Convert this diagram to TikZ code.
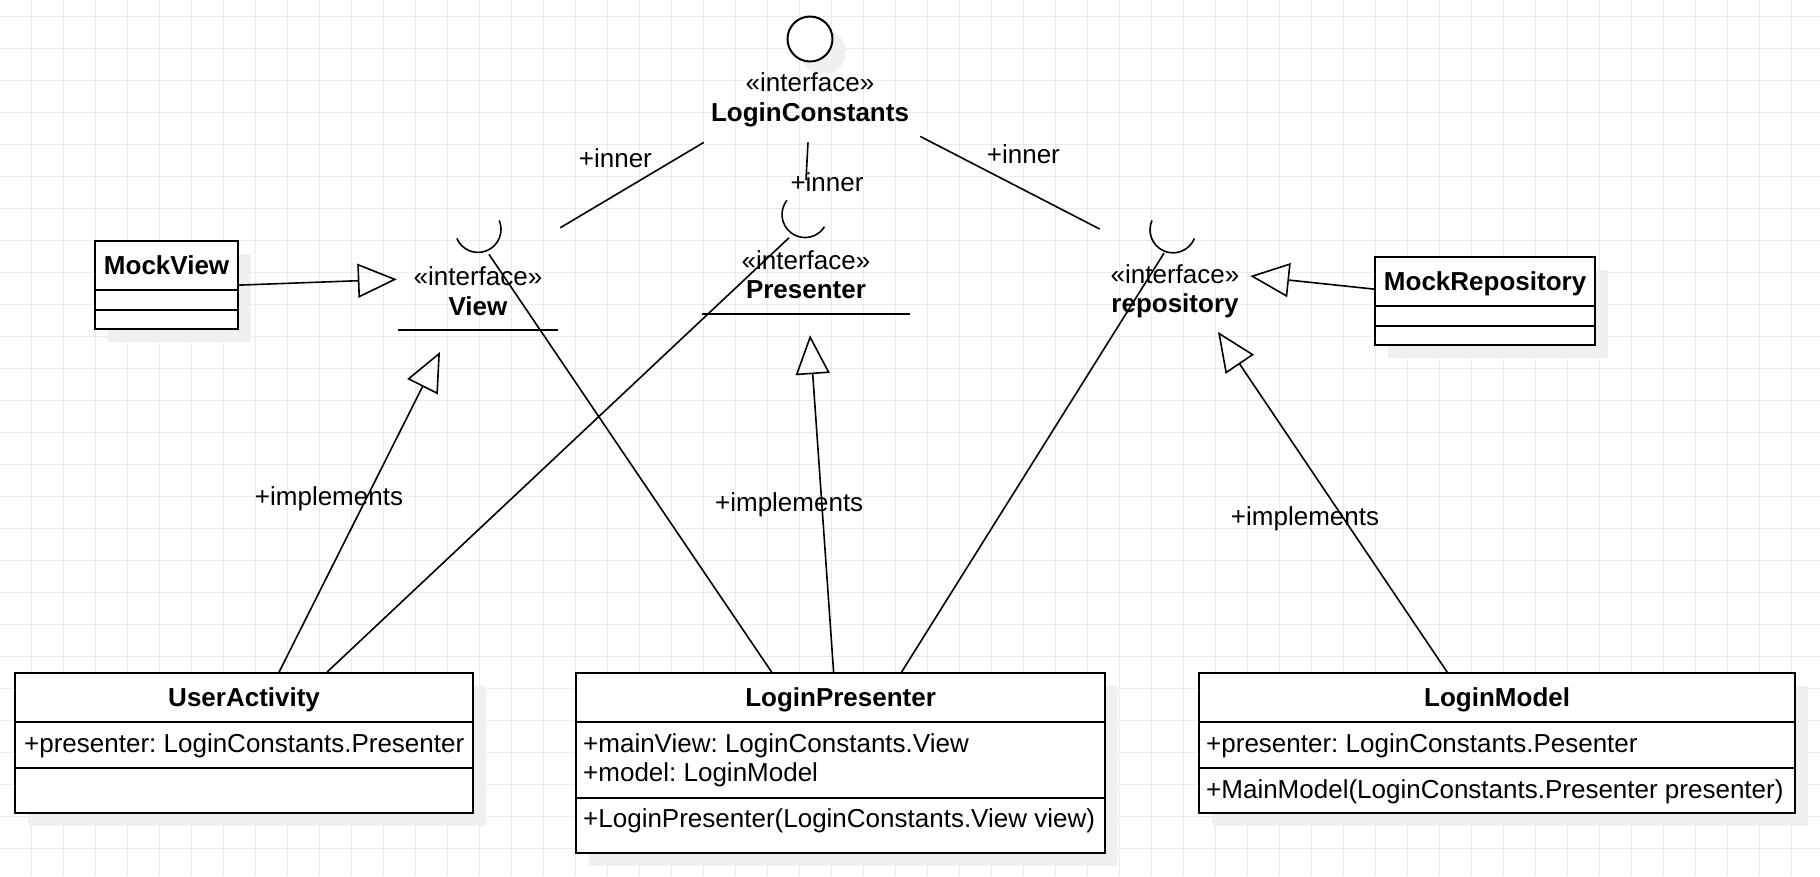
\documentclass[tikz,border=0pt]{standalone}
\usepackage{fontspec}
\setmainfont{Liberation Sans}
\usetikzlibrary{arrows.meta,shadows}
\frenchspacing

\begin{document}
\begin{tikzpicture}[x=1pt,y=-1pt,
  txt/.style={font=\fontsize{26}{29.3}\selectfont,inner sep=0pt,text height=25pt,text depth=5.5pt},
  iface/.style={font=\fontsize{26}{29.3}\selectfont,inner sep=0pt,align=center},
  classbox/.style={draw,line width=2.2pt,fill=white,anchor=north west,inner sep=0pt,
    drop shadow={shadow xshift=13pt,shadow yshift=-13pt,fill=black!6,opacity=1}},
  title/.style={txt,font=\fontsize{26}{29.3}\selectfont\bfseries},
  member/.style={txt,anchor=west},
  divider/.style={line width=2.2pt},
  uline/.style={line width=2pt},
  conn/.style={line width=1.6pt},
  gen/.style={line width=1.6pt,line join=miter,-{Triangle[open,length=39pt,width=34pt]}},
  gridline/.style={line width=1pt,black!8}]
  \fill[white] (0,0) rectangle (1820,876);
  \useasboundingbox (0,0) rectangle (1820,876);
  \foreach \x in {31,63,...,1819} \draw[gridline] (\x,0) -- (\x,876);
  \foreach \y in {16,48,...,876} \draw[gridline] (0,\y) -- (1820,\y);

  \node[circle,draw,line width=2pt,fill=white,minimum size=45pt,inner sep=0pt,
    drop shadow={shadow xshift=13pt,shadow yshift=-13pt,fill=black!6,opacity=1}] (lc) at (810,39) {};
  \node[iface,minimum width=212pt,minimum height=83pt] (lcname) at (810,99.7) {«interface»\\\textbf{LoginConstants}};

  \node[iface,minimum width=160pt,minimum height=77.4pt] (view) at (478,291.3) {«interface»\\\textbf{View}};
  \draw[uline] (view.south west) -- (view.south east);
  \draw[conn] ([shift={(0,-23)}]view.north) ++(157:23) arc[start angle=157,end angle=-23,radius=23];

  \node[iface,minimum width=208pt,minimum height=78pt] (presenter) at (806,274.7) {«interface»\\\textbf{Presenter}};
  \draw[uline] (presenter.south west) -- (presenter.south east);
  \draw[conn] ([shift={(-1,-21)}]presenter.north) ++(218:23) arc[start angle=218,end angle=32,radius=23];

  \node[iface,minimum width=150pt,minimum height=78pt] (repo) at (1175,291) {«interface»\\\textbf{repository}};
  \draw[conn] ([shift={(-2,-22)}]repo.north) ++(204:23) arc[start angle=204,end angle=22,radius=23];

  \node[classbox,minimum width=143pt,minimum height=88pt] (mockview) at (94,240) {};
  \node[title] (mockview-t) at ([shift={(0,25)}]mockview.north) {MockView};
  \draw[divider] ([shift={(0,50)}]mockview.north west) -- ([shift={(0,50)}]mockview.north east);
  \draw[divider] ([shift={(0,70)}]mockview.north west) -- ([shift={(0,70)}]mockview.north east);

  \node[classbox,minimum width=220pt,minimum height=88pt] (mockrepo) at (1374,256) {};
  \node[title] (mockrepo-t) at ([shift={(0,25)}]mockrepo.north) {MockRepository};
  \draw[divider] ([shift={(0,50)}]mockrepo.north west) -- ([shift={(0,50)}]mockrepo.north east);
  \draw[divider] ([shift={(0,70)}]mockrepo.north west) -- ([shift={(0,70)}]mockrepo.north east);

  \node[classbox,minimum width=458pt,minimum height=140pt] (useract) at (14,672) {};
  \node[title] (useract-t) at ([shift={(0,25)}]useract.north) {UserActivity};
  \draw[divider] ([shift={(0,50)}]useract.north west) -- ([shift={(0,50)}]useract.north east);
  \draw[divider] ([shift={(0,96)}]useract.north west) -- ([shift={(0,96)}]useract.north east);
  \node[member] (useract-a) at ([shift={(10,70.5)}]useract.north west) {+presenter: LoginConstants.Presenter};

  \node[classbox,minimum width=529pt,minimum height=180pt] (loginpres) at (575,672) {};
  \node[title] (loginpres-t) at ([shift={(0,25)}]loginpres.north) {LoginPresenter};
  \draw[divider] ([shift={(0,50)}]loginpres.north west) -- ([shift={(0,50)}]loginpres.north east);
  \draw[divider] ([shift={(0,126)}]loginpres.north west) -- ([shift={(0,126)}]loginpres.north east);
  \node[member] (loginpres-a1) at ([shift={(8,70.5)}]loginpres.north west) {+mainView: LoginConstants.View};
  \node[member] (loginpres-a2) at ([shift={(8,99.8)}]loginpres.north west) {+model: LoginModel};
  \node[member] (loginpres-m) at ([shift={(8,145.5)}]loginpres.north west) {+LoginPresenter(LoginConstants.View view)};

  \node[classbox,minimum width=596pt,minimum height=140pt] (loginmodel) at (1198,672) {};
  \node[title] (loginmodel-t) at ([shift={(0,25)}]loginmodel.north) {LoginModel};
  \draw[divider] ([shift={(0,50)}]loginmodel.north west) -- ([shift={(0,50)}]loginmodel.north east);
  \draw[divider] ([shift={(0,96)}]loginmodel.north west) -- ([shift={(0,96)}]loginmodel.north east);
  \node[member] (loginmodel-a) at ([shift={(8,70.5)}]loginmodel.north west) {+presenter: LoginConstants.Pesenter};
  \node[member] (loginmodel-m) at ([shift={(8,117.2)}]loginmodel.north west) {+MainModel(LoginConstants.Presenter presenter)};

  \draw[conn] ([shift={(0,1)}]lcname.south west) -- ([shift={(2,-24.6)}]view.north east);
  \draw[conn] ([shift={(-2,1)}]lcname.south) -- ([shift={(0,-55.7)}]presenter.north);
  \draw[conn] ([shift={(4,-5)}]lcname.south east) -- ([shift={(0,-22.7)}]repo.north west);
  \node[txt] (inner-v) at (615.4,157.3) {+inner};
  \node[txt] (inner-p) at (827,181.7) {+inner};
  \node[txt] (inner-r) at (1023.4,154) {+inner};

  \draw[gen] (mockview.east) -- ([shift={(-1,-12)}]view.west);
  \draw[gen] ([shift={(0,-12)}]mockrepo.west) -- ([shift={(0,-15)}]repo.east);
  \draw[gen] ([xshift=35pt]useract.north) -- ([shift={(-38,21.7)}]view.south);
  \draw[gen] ([xshift=-7pt]loginpres.north) -- ([shift={(4,21.3)}]presenter.south);
  \draw[gen] ([xshift=-50pt]loginmodel.north) -- ([shift={(43,1.7)}]repo.south);
  \node[txt] (impl-v) at (329,495.7) {+implements};
  \node[txt] (impl-p) at (789.2,501.7) {+implements};
  \node[txt] (impl-r) at (1305,515.7) {+implements};

  \draw[conn] ([xshift=83pt]useract.north) -- ([shift={(-17,2.3)}]presenter.north);
  \draw[conn] ([xshift=-69pt]loginpres.north) -- ([shift={(11,2)}]view.north);
  \draw[conn] ([xshift=61pt]loginpres.north) -- ([shift={(-11,1.3)}]repo.north);
\end{tikzpicture}
\end{document}
